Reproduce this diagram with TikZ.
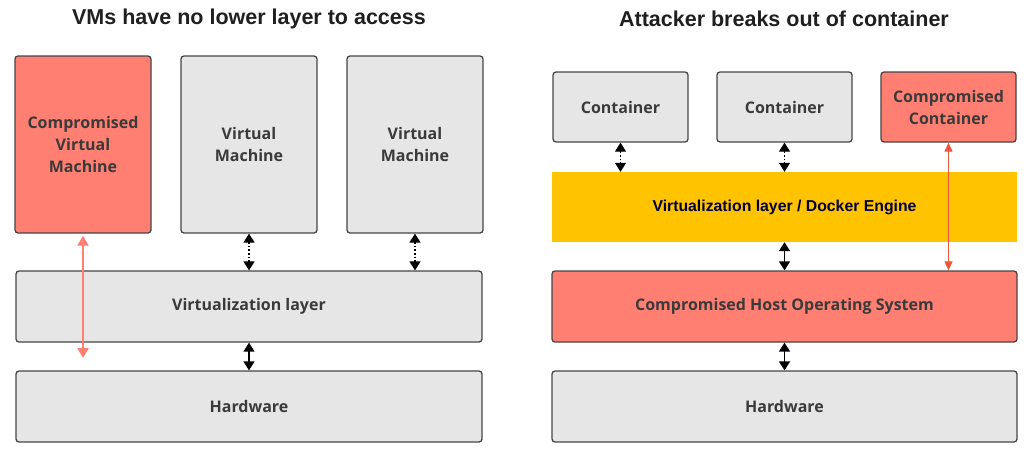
\documentclass[tikz,border=0pt]{standalone}
\usepackage{fontspec}
\setmainfont{Liberation Sans}
\newfontfamily\boxfont{Open Sans}
\usetikzlibrary{arrows.meta}

\definecolor{boxgray}{HTML}{E6E6E6}
\definecolor{comp}{HTML}{FF8072}
\definecolor{engine}{HTML}{FFC300}
\definecolor{edge}{HTML}{454545}
\definecolor{txt}{HTML}{3A3A3A}
\definecolor{breakout}{HTML}{F0543A}

\begin{document}
\begin{tikzpicture}[x=1pt,y=-1pt,
  layer/.style={draw=edge,line width=1.3pt,rounded corners=3pt,fill=boxgray,
    text=txt,font=\boxfont\bfseries\fontsize{16}{22}\selectfont,align=center,
    inner sep=0pt},
  flat/.style={fill=engine,text=black!80!blue,inner sep=0pt,
    font=\bfseries\fontsize{15.8}{18}\selectfont},
  title/.style={font=\bfseries\fontsize{21.5}{24}\selectfont,text=black!88},
  link/.style={line width=1.6pt,{Triangle[width=11pt,length=9pt]}-{Triangle[width=11pt,length=9pt]}},
  dotlink/.style={link,dotted},
  escape/.style={draw=comp,line width=2.2pt,{Triangle[width=11pt,length=10pt]}-{Triangle[width=11pt,length=10pt]}},
]
\useasboundingbox (0,0) rectangle (1031,459);

% left: virtual machines
\node[title] (ltitle) at (249,19) {VMs have no lower layer to access};
\node[layer,fill=comp,minimum width=136,minimum height=177] (cvm) at (83,144.5) {Compromised\\Virtual\\Machine};
\node[layer,minimum width=136,minimum height=177] (vmb) at (249,144.5) {Virtual\\Machine};
\node[layer,minimum width=136,minimum height=177] (vmc) at (415,144.5) {Virtual\\Machine};
\node[layer,minimum width=466,minimum height=71] (virt) at (249,306.5) {Virtualization layer};
\node[layer,minimum width=466,minimum height=71] (lhw) at (249,406.5) {Hardware};

\draw[dotlink] (vmb.south) -- (virt.north);
\draw[dotlink] (vmc.south) -- (vmc.south |- virt.north);
\draw[link] (virt.south) -- (lhw.north);
\coordinate (cvmend) at (83,358);
\draw[escape] ([yshift=-2]cvm.south) -- (cvmend);

% right: containers
\node[title] (rtitle) at (784,19) {Attacker breaks out of container};
\node[layer,minimum width=135,minimum height=70] (cta) at (620.5,107) {Container};
\node[layer,minimum width=135,minimum height=70] (ctb) at (784.5,107) {Container};
\node[layer,fill=comp,minimum width=135,minimum height=70] (ccomp) at (948.5,107) {Compromised\\Container};
\node[flat,minimum width=465,minimum height=70] (docker) at (784.5,207) {Virtualization layer / Docker Engine};
\node[layer,fill=comp,minimum width=465,minimum height=71] (host) at (784.5,306.5) {Compromised Host Operating System};
\node[layer,minimum width=465,minimum height=71] (rhw) at (784.5,406.5) {Hardware};

\draw[dotlink,line width=1pt] (cta.south) -- (cta.south |- docker.north);
\draw[dotlink,line width=1pt] (ctb.south) -- (ctb.south |- docker.north);
\draw[link] (docker.south) -- (host.north);
\draw[link] (host.south) -- (rhw.north);
\draw[breakout,line width=1.2pt,{Triangle[width=8pt,length=9pt]}-{Triangle[width=8pt,length=9pt]}] (ccomp.south) -- (ccomp.south |- host.north);
\end{tikzpicture}
\end{document}
